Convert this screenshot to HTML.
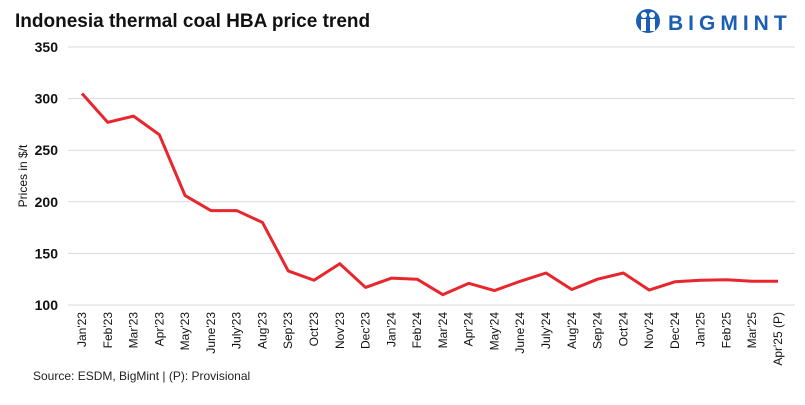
<!DOCTYPE html>
<html><head><meta charset="utf-8"><style>
body{margin:0;background:#fff;font-family:"Liberation Sans",Arial,sans-serif;}
</style></head><body>
<svg width="805" height="400" xmlns="http://www.w3.org/2000/svg">
<text x="15" y="27" font-size="19" font-weight="bold" fill="#111">Indonesia thermal coal HBA price trend</text>
<g>
<circle cx="648" cy="21" r="12" fill="#1a5fb4"/>
<circle cx="644" cy="15" r="3" fill="#fff"/><circle cx="652" cy="15" r="3" fill="#fff"/>
<rect x="641" y="19" width="5" height="12" fill="#fff"/><rect x="650" y="19" width="5" height="12" fill="#fff"/>
<text x="668" y="30" font-size="21" font-weight="bold" fill="#1a5fb4" letter-spacing="5">BIGMINT</text>
</g>
<g id="grid"></g><g id="ylab"></g><g id="xlab"></g>
<path id="line" fill="none" stroke="#e8262d" stroke-width="3" stroke-linejoin="round"/>
<text transform="translate(27,176) rotate(-90)" text-anchor="middle" font-size="12" fill="#111">Prices in $/t</text>
<text x="33" y="380" font-size="12" fill="#222">Source: ESDM, BigMint | (P): Provisional</text>
</svg>
<script>
const categories=["Jan'23","Feb'23","Mar'23","Apr'23","May'23","June'23","July'23","Aug'23","Sep'23","Oct'23","Nov'23","Dec'23","Jan'24","Feb'24","Mar'24","Apr'24","May'24","June'24","July'24","Aug'24","Sep'24","Oct'24","Nov'24","Dec'24","Jan'25","Feb'25","Mar'25","Apr'25 (P)"];
const prices=[305,277,283,265,206,191.5,191.5,180,133,124,140,117,126,125,110,121,114,123,131,115,125,131,114.5,122.5,124,124.5,123,123];
const yTicks=[100,150,200,250,300,350];
const NS="http://www.w3.org/2000/svg";
const y=v=>305-(v-100)*258/250;
const x=i=>82+i*(696/(categories.length-1));
const grid=document.getElementById('grid'),yl=document.getElementById('ylab'),xl=document.getElementById('xlab');
yTicks.forEach(t=>{
 const l=document.createElementNS(NS,'line');
 l.setAttribute('x1',68);l.setAttribute('x2',795);l.setAttribute('y1',y(t));l.setAttribute('y2',y(t));
 l.setAttribute('stroke','#d9d9d9');l.setAttribute('stroke-width','1');
 
 
 grid.appendChild(l);
 const tx=document.createElementNS(NS,'text');
 tx.setAttribute('x',58);tx.setAttribute('y',y(t)+5);tx.setAttribute('text-anchor','end');
 tx.setAttribute('font-size','14');tx.setAttribute('font-weight','bold');tx.setAttribute('fill','#111');
 tx.textContent=t;
 
 
 yl.appendChild(tx);
});
categories.forEach((c,i)=>{
 const tx=document.createElementNS(NS,'text');
 tx.setAttribute('transform',`translate(${x(i)+4},312) rotate(-90)`);
 tx.setAttribute('text-anchor','end');tx.setAttribute('font-size','12');tx.setAttribute('fill','#111');
 tx.textContent=c;
 
 
 xl.appendChild(tx);
});
document.getElementById('line').setAttribute('d',prices.map((v,i)=>(i?'L':'M')+x(i)+','+y(v)).join(' '));
</script>
</body></html>
